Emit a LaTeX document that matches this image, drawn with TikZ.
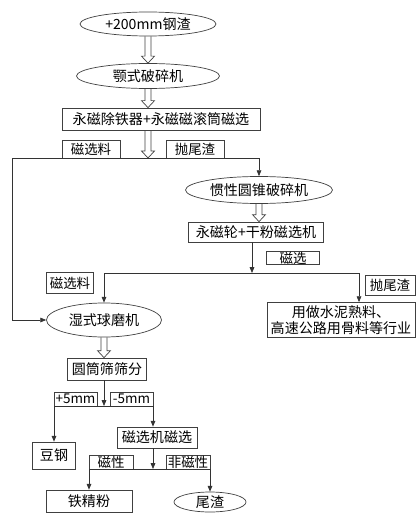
\documentclass[tikz,border=0pt]{standalone}
\usepackage{fontspec}
\newfontfamily\cjk{Noto Sans CJK SC}
\usetikzlibrary{arrows.meta,shapes.geometric,calc}
\tikzset{
    base/.style={draw=black!75, line width=0.6pt, inner sep=0pt, align=center,
        font=\cjk\fontsize{12}{13.5}\selectfont},
    oval/.style={base, ellipse},
    stepbox/.style={base, rectangle},
    tag/.style={base, rectangle, line width=0.5pt, font=\cjk\fontsize{11.5}{12}\selectfont},
    arr/.style={draw=black!80, line width=0.6pt, -{Triangle[length=5pt,width=4pt]}},
    hollow/.style={draw=black!75, line width=0.6pt, line join=miter,
        to path={($(\tikztostart)+(-3,0)$) -- ($(\tikztotarget)+(-3,-7)$)
            -- ($(\tikztotarget)+(-6.5,-7)$) -- (\tikztotarget)
            -- ($(\tikztotarget)+(6.5,-7)$) -- ($(\tikztotarget)+(3,-7)$)
            -- ($(\tikztostart)+(3,0)$)}},
}
\begin{document}
\begin{tikzpicture}[x=0.3mm, y=-0.3mm]
    \useasboundingbox (0,0) rectangle (419,527);
    \node[oval, minimum width=40.8mm, minimum height=7.2mm] (e1) at (148,24) {+200mm钢渣};
    \node[oval, minimum width=42.9mm, minimum height=7.5mm] (e2) at (148,76) {颚式破碎机};
    \node[stepbox, minimum width=59.4mm, minimum height=6.6mm] (b1) at (161,119) {永磁除铁器+永磁磁滚筒磁选};
    \node[tag, minimum width=17.4mm, minimum height=5.4mm] (l1) at (91,149) {磁选料};
    \node[tag, minimum width=17.4mm, minimum height=5.4mm] (l2) at (195,149) {抛尾渣};
    \coordinate (j1) at (148,158);
    \coordinate (c1) at (12,158);
    \node[oval, minimum width=44.1mm, minimum height=8.1mm] (e3) at (259,190) {惯性圆锥破碎机};
    \node[stepbox, minimum width=40.5mm, minimum height=6mm] (b2) at (256,232) {永磁轮+干粉磁选机};
    \node[tag, minimum width=15.9mm, minimum height=3.9mm] (l3) at (293,258) {磁选};
    \coordinate (j2) at (252,273);
    \coordinate (c2) at (359,273);
    \node[tag, minimum width=14.1mm, minimum height=6.3mm] (l4) at (70,283) {磁选料};
    \node[tag, minimum width=15mm, minimum height=6mm] (l5) at (390,285) {抛尾渣};
    \node[oval, minimum width=34.5mm, minimum height=10.2mm] (e4) at (104,320) {湿式球磨机};
    \node[stepbox, minimum width=44.4mm, minimum height=10.5mm] (b3) at (341,320) {用做水泥熟料、\\高速公路用骨料等行业};
    \node[stepbox, minimum width=23.7mm, minimum height=6.6mm] (b4) at (107,369) {圆筒筛筛分};
    \coordinate (j3) at (104,406);
    \coordinate (c3) at (153,406);
    \node[tag, minimum width=12.9mm, minimum height=4.2mm] (l6) at (75.5,399) {+5mm};
    \node[tag, minimum width=12.9mm, minimum height=4.2mm] (l7) at (131.5,399) {-5mm};
    \node[stepbox, minimum width=12.9mm, minimum height=8.1mm] (b5) at (54,455.5) {豆钢};
    \node[stepbox, minimum width=24mm, minimum height=6.3mm] (b6) at (157,437.5) {磁选机磁选};
    \coordinate (j4) at (153,469);
    \node[tag, minimum width=13.2mm, minimum height=4.2mm] (l8) at (111,462) {磁性};
    \node[tag, minimum width=13.2mm, minimum height=4.2mm] (l9) at (188,462) {非磁性};
    \node[stepbox, minimum width=25.8mm, minimum height=6.6mm] (b7) at (89,501) {铁精粉};
    \node[oval, minimum width=21.6mm, minimum height=6mm] (e5) at (210,502) {尾渣};
    \draw[hollow] (e1.south) to (e2.north);
    \draw[hollow] (e2.south) to (e2.south |- b1.north);
    \draw[hollow] (b1.south -| j1) to (j1);
    \draw[arr] (j1) -- (j1 -| e3.north) -- (e3.north);
    \draw[arr] (j1) -- (c1) |- (e4.west);
    \draw[hollow] (e3.south) to (e3.south |- b2.north);
    \draw[arr] (b2.south -| j2) -- (j2);
    \draw[arr] (j2) -| (e4.north);
    \draw[arr] (j2) -- (c2) -- (c2 |- b3.north);
    \draw[hollow] (e4.south) to (e4.south |- b4.north);
    \draw[arr] (b4.south -| j3) -- (j3);
    \draw[arr] (j3) -| (b5.north);
    \draw[arr] (j3) -- (c3) -- (c3 |- b6.north);
    \draw[arr] (b6.south -| j4) -- (j4);
    \draw[arr] (j4) -| (b7.north);
    \draw[arr] (j4) -| (e5.north);
\end{tikzpicture}
\end{document}
